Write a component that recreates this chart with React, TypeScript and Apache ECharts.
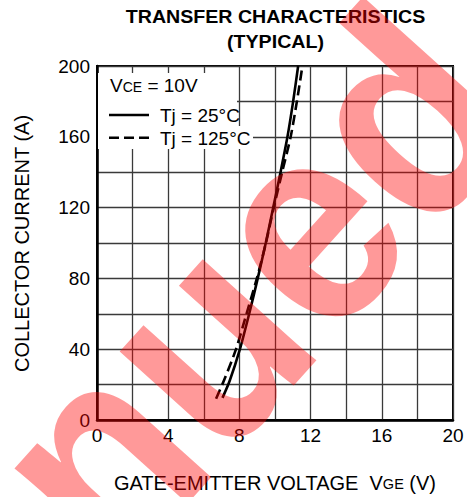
import React, { useEffect, useRef } from "react";
import * as echarts from "echarts";

const vgeTicks = [0, 4, 8, 12, 16, 20];
const icTicks = [0, 40, 80, 120, 160, 200];
const vgeSolid = [7.05, 7.45, 8.03, 8.55, 9.03, 9.48, 9.9, 10.31, 10.7, 11.02, 11.3];
const icSolid = [12.5, 22, 40, 60, 80, 100, 120, 140, 160, 180, 200];
const vgeDashed = [6.69, 7.12, 7.81, 8.4, 8.98, 9.49, 9.93, 10.4, 10.88, 11.23, 11.54];
const icDashed = [12, 22, 40, 60, 80, 100, 120, 140, 160, 180, 200];

const FONT = "'Liberation Sans', Arial, Helvetica, sans-serif";

export default function App() {
  const ref = useRef<HTMLDivElement>(null);
  useEffect(() => {
    if (!ref.current) return;
    const chart = echarts.init(ref.current, null, { renderer: "svg" });
    const solid = vgeSolid.map((v, i) => [v, icSolid[i]]);
    const dashed = vgeDashed.map((v, i) => [v, icDashed[i]]);
    const legendText = { fontFamily: FONT, fill: "#000" };
    chart.setOption({
      animation: false,
      backgroundColor: "#fff",
      grid: {
        left: 97,
        top: 66,
        width: 356,
        height: 354,
        show: true,
        borderColor: "#000",
        borderWidth: 2,
        backgroundColor: "transparent",
      },
      xAxis: {
        type: "value",
        min: 0,
        max: 20,
        interval: 2,
        axisLine: { show: true, onZero: false, lineStyle: { color: "#000", width: 2.5 } },
        axisTick: { show: false },
        splitLine: { show: true, lineStyle: { color: "#3a3a3a", width: 1.3 } },
        axisLabel: {
          color: "#000",
          fontFamily: FONT,
          fontSize: 19,
          margin: 6,
          formatter: (v: number) => (vgeTicks.includes(v) ? String(v) : ""),
        },
      },
      yAxis: {
        type: "value",
        min: 0,
        max: 200,
        interval: 20,
        axisLine: { show: true, onZero: false, lineStyle: { color: "#000", width: 2.5 } },
        axisTick: { show: false },
        splitLine: { show: true, lineStyle: { color: "#3a3a3a", width: 1.3 } },
        axisLabel: {
          color: "#000",
          fontFamily: FONT,
          fontSize: 19,
          margin: 7,
          formatter: (v: number) => (icTicks.includes(v) ? String(v) : ""),
        },
      },
      series: [
        {
          type: "line",
          data: solid,
          smooth: 0.25,
          showSymbol: false,
          lineStyle: { color: "#000", width: 2.6, type: "solid" },
          z: 3,
        },
        {
          type: "line",
          data: dashed,
          smooth: 0.25,
          showSymbol: false,
          lineStyle: { color: "#000", width: 2.6, type: [10, 5] },
          z: 3,
        },
      ],
      graphic: [
        {
          type: "text",
          z: 10,
          x: 275.5,
          y: 4,
          scaleX: 1.09,
          style: {
            text: "TRANSFER CHARACTERISTICS\n(TYPICAL)",
            x: 0,
            y: 0,
            align: "center",
            verticalAlign: "top",
            fontFamily: FONT,
            fontWeight: "bold",
            fontSize: 18,
            lineHeight: 25,
            fill: "#000",
          },
        },
        { type: "rect", shape: { x: 98, y: 73, width: 112, height: 27 }, style: { fill: "#fff" }, z: 5 },
        { type: "rect", shape: { x: 98, y: 100, width: 139, height: 26 }, style: { fill: "#fff" }, z: 5 },
        { type: "rect", shape: { x: 98, y: 126, width: 155, height: 23 }, style: { fill: "#fff" }, z: 5 },
        {
          type: "text",
          z: 6,
          style: {
            ...legendText,
            x: 110,
            y: 85,
            verticalAlign: "middle",
            text: "{v|V}{s|CE}{v| = 10V}",
            rich: {
              v: { fontSize: 19, fontFamily: FONT, verticalAlign: "bottom", lineHeight: 20 },
              s: { fontSize: 14, fontFamily: FONT, verticalAlign: "bottom", lineHeight: 20, padding: [0, 0, 1, 0] },
            },
          },
        },
        {
          type: "line",
          z: 6,
          shape: { x1: 109, y1: 115, x2: 149, y2: 115 },
          style: { stroke: "#000", lineWidth: 2.6 },
        },
        {
          type: "text",
          z: 6,
          style: { ...legendText, x: 160, y: 115, verticalAlign: "middle", text: "Tj = 25°C", fontSize: 19 },
        },
        {
          type: "line",
          z: 6,
          shape: { x1: 109, y1: 137.7, x2: 150, y2: 137.7 },
          style: { stroke: "#000", lineWidth: 2.6, lineDash: [10, 5] },
        },
        {
          type: "text",
          z: 6,
          style: { ...legendText, x: 160, y: 138, verticalAlign: "middle", text: "Tj = 125°C", fontSize: 19 },
        },
        {
          type: "text",
          z: 6,
          x: 21.5,
          y: 243.5,
          rotation: Math.PI / 2,
          style: {
            ...legendText,
            x: 0,
            y: 0,
            align: "center",
            verticalAlign: "middle",
            text: "COLLECTOR CURRENT (A)",
            fontSize: 20,
          },
        },
        {
          type: "text",
          z: 6,
          style: {
            ...legendText,
            x: 275,
            y: 482,
            align: "center",
            verticalAlign: "middle",
            text: "{v|GATE-EMITTER VOLTAGE\u00a0\u00a0V}{s|GE}{v| (V)}",
            rich: {
              v: { fontSize: 20, fontFamily: FONT, verticalAlign: "bottom", lineHeight: 21 },
              s: { fontSize: 14.5, fontFamily: FONT, verticalAlign: "bottom", lineHeight: 21, padding: [0, 0, 1, 0] },
            },
          },
        },
        {
          type: "text",
          z: 100,
          x: 456,
          y: 56,
          rotation: 0.838,
          scaleX: 0.9,
          silent: true,
          style: {
            x: 0,
            y: 0,
            align: "right",
            verticalAlign: "middle",
            text: "Discontinued",
            fontFamily: FONT,
            fontWeight: "bold",
            fontSize: 288,
            fill: "rgba(255,0,0,0.4)",
          },
        },
      ],
    });
    return () => chart.dispose();
  }, []);
  return (
    <div
      ref={ref}
      style={{ position: "fixed", left: 0, top: 0, width: 467, height: 497, background: "#fff" }}
    />
  );
}
